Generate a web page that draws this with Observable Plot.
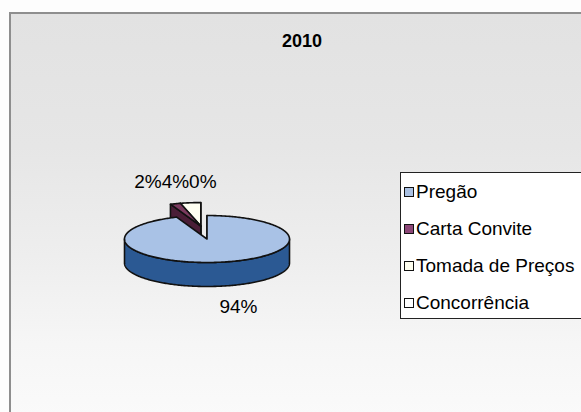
<!DOCTYPE html>
<html>
<head>
<meta charset="utf-8">
<script src="https://cdn.jsdelivr.net/npm/d3@7"></script>
<script src="https://cdn.jsdelivr.net/npm/@observablehq/plot@0.6"></script>
<style>
  html, body { margin: 0; padding: 0; background: #ffffff; }
  #wrap { position: relative; width: 581px; height: 412px; overflow: hidden; background: #fdfdfd;
          font-family: "Liberation Sans", Arial, sans-serif; }
  #frame { position: absolute; left: 9px; top: 12px; width: 620px; height: 440px;
           border: 2px solid #8e8e8e;
           background: linear-gradient(to bottom, #e2e2e2 0%, #e6e6e6 30%, #eeeeee 55%, #f6f6f6 75%, #fcfcfc 100%); }
  #chart { position: absolute; left: 0; top: 0; }
  #title { position: absolute; left: 252px; width: 100px; top: 31px; text-align: center;
           font-weight: bold; font-size: 18px; line-height: 20px; color: #000; }
  #legend { position: absolute; left: 400px; top: 172px; width: 220px; height: 145px;
            border: 1.5px solid #222; background: #ffffff; }
  .row { height: 37px; display: flex; align-items: center; padding-left: 3px; font-size: 19px; color: #000; }
  .sw { width: 8px; height: 8px; border: 1px solid #111; margin-right: 2px; flex: none; }
</style>
</head>
<body>
<div id="wrap">
  <div id="frame"></div>
  <div id="chart"></div>
  <div id="title"></div>
  <div id="legend"></div>
</div>
<script>
// ---- data ----
const title = "2010";
const categories = ["Pregão", "Carta Convite", "Tomada de Preços", "Concorrência"];
const values = [94, 2, 4, 0];
const exploded = [false, true, true, true];
const topColors = ["#a9c2e6", "#7a3a5e", "#fffff2", "#f2ffff"];
const sideColors = ["#2b5993", "#4a1e37", "#2a2a2a", "#2a2a2a"];
const legendColors = ["#aac1e3", "#8c4677", "#fffff0", "#ffffff"];

// ---- geometry (unit ellipse, scaled by Plot's x/y scales) ----
const total = d3.sum(values);
const depth = 24 / 23.5;
const EX = -0.075, EY = -0.55;
let acc = 0;
const slices = values.map((v, i) => {
  const a = acc / total * 2 * Math.PI; acc += v;
  const b = acc / total * 2 * Math.PI;
  return {i, v, a, b, ox: exploded[i] ? EX : 0, oy: exploded[i] ? EY : 0};
});
const pt = (s, t, z) => ({x: Math.sin(t) + s.ox, y: -Math.cos(t) + z + s.oy});
const ctr = (s, z) => ({x: s.ox, y: z + s.oy});
function arc(s, t0, t1, z) {
  const n = Math.max(2, Math.ceil(Math.abs(t1 - t0) / (Math.PI / 180)));
  return d3.range(n + 1).map(k => pt(s, t0 + (t1 - t0) * k / n, z));
}
function sliceFaces(s) {
  const f = [];
  if (s.v <= 0) return f;
  const d = depth;
  if (Math.sin(s.a) < 1e-9) f.push({fill: sideColors[s.i], pts: [ctr(s, 0), pt(s, s.a, 0), pt(s, s.a, d), ctr(s, d)]});
  if (Math.sin(s.b) > -1e-9) f.push({fill: sideColors[s.i], pts: [ctr(s, 0), pt(s, s.b, 0), pt(s, s.b, d), ctr(s, d)]});
  const lo = Math.max(s.a, Math.PI / 2), hi = Math.min(s.b, 3 * Math.PI / 2);
  if (hi > lo) f.push({fill: sideColors[s.i], pts: [...arc(s, lo, hi, 0), ...arc(s, hi, lo, d)]});
  f.push({fill: topColors[s.i], pts: [ctr(s, 0), ...arc(s, s.a, s.b, 0)]});
  return f;
}
const faces = [];
[...slices].reverse().forEach(s => faces.push(...sliceFaces(s)));
faces.forEach(f => f.pts.push(f.pts[0]));

const pct = s => Math.round(s.v / total * 100) + "%";
const big = slices[0];
const bigMid = (big.a + big.b) / 2;
const bigLabel = [{...pt(big, bigMid, depth), text: pct(big)}];
const small = slices.slice(1);
const smallMid = (small[0].a + small[small.length - 1].b) / 2;
const smallLabel = [{...pt(small[0], smallMid, 0), text: small.map(pct).join("")}];

const marks = faces.map(f => Plot.line(f.pts, {
  x: "x", y: "y", fill: f.fill, stroke: "#111", strokeWidth: 1.6, strokeLinejoin: "round"
}));
const font = {fontSize: 19, fontFamily: "Liberation Sans, Arial, sans-serif", fill: "#000"};
marks.push(Plot.text(bigLabel, {x: "x", y: "y", text: "text", dx: 16, dy: 21, ...font}));
marks.push(Plot.text(smallLabel, {x: "x", y: "y", text: "text", dx: -10, dy: -21, ...font}));

const plot = Plot.plot({
  width: 581, height: 412, margin: 0,
  x: {domain: [-1, 1], range: [124, 289], axis: null},
  y: {domain: [-1, 1], range: [215, 262], axis: null},
  style: {background: "transparent", overflow: "visible"},
  marks
});
document.getElementById("chart").appendChild(plot);

document.getElementById("title").textContent = title;
const legend = document.getElementById("legend");
categories.forEach((c, i) => {
  const row = document.createElement("div");
  row.className = "row";
  const sw = document.createElement("span");
  sw.className = "sw";
  sw.style.background = legendColors[i];
  const t = document.createElement("span");
  t.textContent = c;
  row.appendChild(sw); row.appendChild(t);
  legend.appendChild(row);
});
</script>
</body>
</html>
